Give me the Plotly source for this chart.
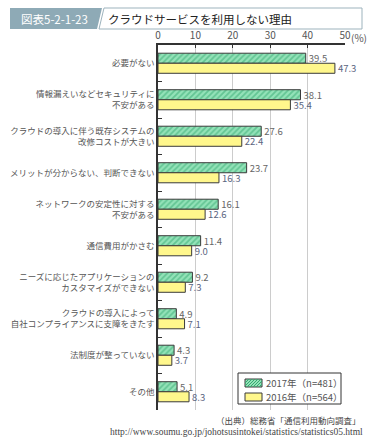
import plotly.graph_objects as go

categories = [
    "必要がない",
    "情報漏えいなどセキュリティに<br>不安がある",
    "クラウドの導入に伴う既存システムの<br>改修コストが大きい",
    "メリットが分からない、判断できない",
    "ネットワークの安定性に対する<br>不安がある",
    "通信費用がかさむ",
    "ニーズに応じたアプリケーションの<br>カスタマイズができない",
    "クラウドの導入によって<br>自社コンプライアンスに支障をきたす",
    "法制度が整っていない",
    "その他",
]
values_2017 = [39.5, 38.1, 27.6, 23.7, 16.1, 11.4, 9.2, 4.9, 4.3, 5.1]
values_2016 = [47.3, 35.4, 22.4, 16.3, 12.6, 9.0, 7.3, 7.1, 3.7, 8.3]
series_names = ["2017年（n=481）", "2016年（n=564）"]
x_ticks = [0, 10, 20, 30, 40, 50]

W, H = 373, 441
L, R, T, B = 158, 28, 45, 31
PW, PH = W - L - R, H - T - B

def px(x):
    return (x - L) / PW

def py(y):
    return (H - B - y) / PH

FONT = "Noto Sans CJK JP"
GREEN_BG = "#93e2b8"
GREEN_FG = "#33a86f"
YELLOW = "#fff78c"
EDGE = "#3a3a3a"

fig = go.Figure()
fig.add_trace(go.Bar(
    y=categories, x=values_2017, orientation="h", name=series_names[0],
    marker=dict(color=GREEN_BG, line=dict(color=EDGE, width=1),
                pattern=dict(shape="/", fgcolor=GREEN_FG, size=4, solidity=0.45)),
    text=[f"{v:.1f}" for v in values_2017], textposition="outside",
    constraintext="none", showlegend=False,
    textfont=dict(family=FONT, size=9.5, color="#666666"), cliponaxis=False,
))
fig.add_trace(go.Bar(
    y=categories, x=values_2016, orientation="h", name=series_names[1],
    marker=dict(color=YELLOW, line=dict(color=EDGE, width=1)),
    text=[f"{v:.1f}" for v in values_2016], textposition="outside",
    constraintext="none", showlegend=False,
    textfont=dict(family=FONT, size=9.5, color="#5a6480"), cliponaxis=False,
))

def rect(x0, y0, x1, y1, fill, line_color, lw=1):
    return dict(type="rect", xref="paper", yref="paper",
                x0=px(x0), x1=px(x1), y0=py(y1), y1=py(y0),
                fillcolor=fill, line=dict(color=line_color, width=lw))

shapes = [
    dict(type="path", xref="paper", yref="paper",
         path=f"M {px(10)} {py(8)} L {px(102)} {py(8)} L {px(97)} {py(29)} L {px(10)} {py(29)} Z",
         fillcolor="#8eaab6", line=dict(width=0)),
    dict(type="path", xref="paper", yref="paper",
         path=f"M {px(104)} {py(8)} L {px(362)} {py(8)} L {px(362)} {py(29)} L {px(99)} {py(29)} Z",
         fillcolor="white", line=dict(color="#9db3bd", width=1)),
    # legend box
    rect(238, 373, 341, 404, "white", "#333333", 1),
    # legend swatches
    rect(245, 379, 262, 387, GREEN_BG, EDGE, 1),
    rect(245, 393, 262, 401, YELLOW, EDGE, 1),
]
# hatch lines in the green legend swatch
for k in range(-4, 20, 3):
    xa, ya = 245 + k, 387
    xb, yb = 245 + k + 8, 379
    # clip to swatch
    if xa < 245:
        ya = 387 - (245 - xa); xa = 245
    if xb > 262:
        yb = 379 + (xb - 262); xb = 262
    if xa < xb:
        shapes.append(dict(type="line", xref="paper", yref="paper",
                           x0=px(xa), y0=py(ya), x1=px(xb), y1=py(yb),
                           line=dict(color=GREEN_FG, width=1)))

annotations = [
    dict(text="図表5-2-1-23", x=px(54), y=py(18.5), xref="paper", yref="paper",
         showarrow=False, font=dict(family=FONT, size=11.5, color="white"),
         xanchor="center", yanchor="middle"),
    dict(text="クラウドサービスを利用しない理由", x=px(106), y=py(18.5), xref="paper", yref="paper",
         showarrow=False, font=dict(family=FONT, size=11.5, color="#222222"),
         xanchor="left", yanchor="middle"),
    dict(text="(%)", x=px(349), y=py(37), xref="paper", yref="paper",
         showarrow=False, font=dict(family=FONT, size=10, color="#555555"),
         xanchor="left", yanchor="middle"),
    dict(text=series_names[0], x=px(264), y=py(383), xref="paper", yref="paper",
         showarrow=False, font=dict(family=FONT, size=9.5, color="#555555"),
         xanchor="left", yanchor="middle"),
    dict(text=series_names[1], x=px(264), y=py(397), xref="paper", yref="paper",
         showarrow=False, font=dict(family=FONT, size=9.5, color="#555555"),
         xanchor="left", yanchor="middle"),
    dict(text="（出典）総務省「通信利用動向調査」", x=px(363), y=py(420), xref="paper", yref="paper",
         showarrow=False, font=dict(family=FONT, size=8.5, color="#444444"),
         xanchor="right", yanchor="middle"),
    dict(text="http://www.soumu.go.jp/johotsusintokei/statistics/statistics05.html",
         x=px(365), y=py(432), xref="paper", yref="paper",
         showarrow=False, font=dict(family="Liberation Serif", size=9.5, color="#444444"),
         xanchor="right", yanchor="middle"),
]

fig.update_layout(
    width=W, height=H, autosize=False,
    margin=dict(l=L, r=R, t=T, b=B, pad=0, autoexpand=False),
    paper_bgcolor="white", plot_bgcolor="white",
    font=dict(family=FONT, color="#555555"),
    barmode="group", bargap=0.45, bargroupgap=0,
    showlegend=False,
    shapes=shapes, annotations=annotations,
)
fig.update_xaxes(
    side="top", range=[0, 50], tickvals=x_ticks, ticktext=[str(t) for t in x_ticks],
    showgrid=True, gridcolor="#cccccc", gridwidth=1,
    showline=True, linecolor="#333333", linewidth=1.5,
    ticks="inside", ticklen=3, tickcolor="#333333", automargin=False,
    tickfont=dict(size=10, color="#555555"), zeroline=False, fixedrange=True,
)
fig.update_yaxes(
    autorange="reversed", type="category", automargin=False,
    showline=True, linecolor="#333333", linewidth=1.5,
    ticks="inside", tickson="boundaries", ticklen=4, tickcolor="#333333",
    tickfont=dict(size=8.5, color="#555555"), showgrid=False, fixedrange=True,
)

fig.write_html("out.html", config={"displayModeBar": False},
               post_script="document.body.style.margin='0';document.body.style.overflow='hidden';")
